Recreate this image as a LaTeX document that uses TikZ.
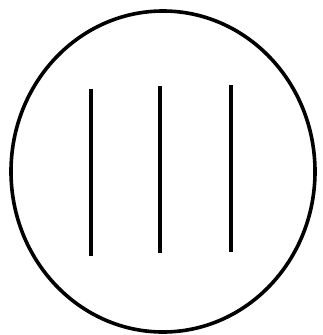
\documentclass[tikz,border=0pt]{standalone}
\usepackage{tikz}
\usetikzlibrary{calc}
\definecolor{ink}{HTML}{000000}
\tikzset{
  rim/.style={draw=ink,line width=3.6pt},
  bar/.style={draw=ink,line width=3.8pt}
}
\begin{document}
\begin{tikzpicture}[x=1pt,y=-1pt]
      \useasboundingbox[fill=white] (0,0) rectangle (323,335);
      \draw[rim] (163,171.5) ellipse [x radius=152,y radius=160.5];
      \foreach \xpos/\ytop/\ybot in {91/89/256,160/86/253,231/85/252}
        \draw[bar] (\xpos,\ytop) -- (\xpos,\ybot);
    \end{tikzpicture}
\end{document}
